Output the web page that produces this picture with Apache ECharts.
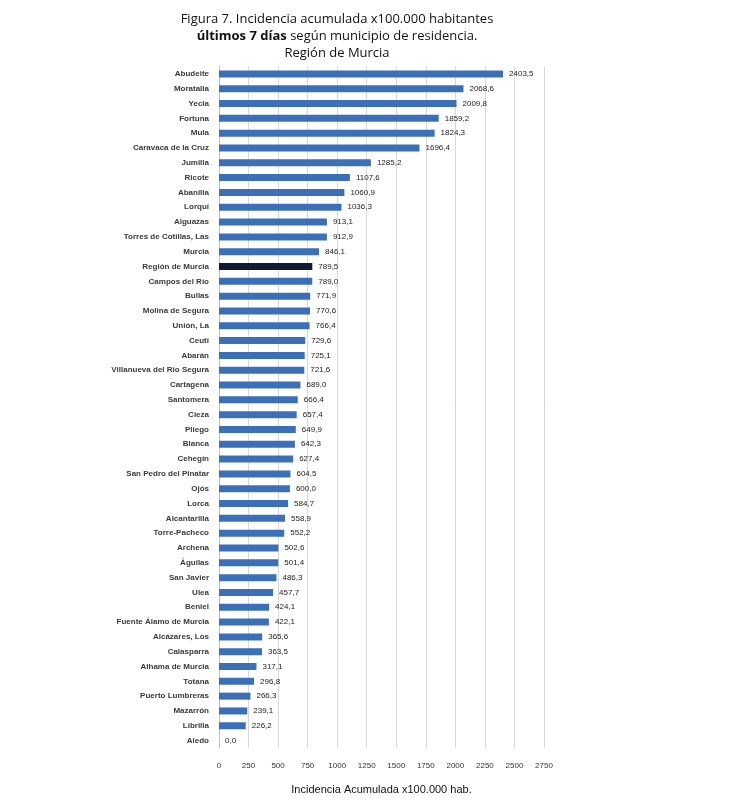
<!DOCTYPE html>
<html><head><meta charset="utf-8">
<script src="https://cdn.jsdelivr.net/npm/echarts@6/dist/echarts.min.js"></script>
<style>html,body{margin:0;padding:0;background:#fff}#c{width:740px;height:800px}</style>
</head><body><div id="c"></div>
<script>
const municipios = ["Abudeite","Moratalla","Yecla","Fortuna","Mula","Caravaca de la Cruz","Jumilla","Ricote","Abanilla","Lorquí","Alguazas","Torres de Cotillas, Las","Murcia","Región de Murcia","Campos del Río","Bullas","Molina de Segura","Unión, La","Ceutí","Abarán","Villanueva del Río Segura","Cartagena","Santomera","Cieza","Pliego","Blanca","Cehegín","San Pedro del Pinatar","Ojós","Lorca","Alcantarilla","Torre-Pacheco","Archena","Águilas","San Javier","Ulea","Beniel","Fuente Álamo de Murcia","Alcázares, Los","Calasparra","Alhama de Murcia","Totana","Puerto Lumbreras","Mazarrón","Librilla","Aledo"];
const incidencia = [2403.5,2068.6,2009.8,1859.2,1824.3,1696.4,1285.2,1107.6,1060.9,1036.3,913.1,912.9,846.1,789.5,789.0,771.9,770.6,766.4,729.6,725.1,721.6,689.0,666.4,657.4,649.9,642.3,627.4,604.5,600.0,584.7,558.9,552.2,502.6,501.4,486.3,457.7,424.1,422.1,365.6,363.5,317.1,296.8,266.3,239.1,226.2,0.0];
const highlight = "Región de Murcia";
const xTicks = [0,250,500,750,1000,1250,1500,1750,2000,2250,2500,2750];

const FONT = "'Liberation Sans Narrow','Liberation Sans',Arial,sans-serif";
const chart = echarts.init(document.getElementById('c'), null, {renderer:'canvas'});
chart.setOption({
  animation:false,
  title:{
    left:332, top:6, textAlign:'center',
    text:'{n|Figura 7. Incidencia acumulada x100.000 habitantes}\n{b|últimos 7 días}{n| según municipio de residencia.}\n{n|Región de Murcia}',
    textStyle:{
      fontWeight:'normal',
      rich:{
        n:{fontSize:13,fontFamily:'Open Sans, sans-serif',fontWeight:'normal',color:'#111',lineHeight:17},
        b:{fontSize:13,fontFamily:'Open Sans, sans-serif',fontWeight:'bold',color:'#111',lineHeight:17}
      }
    }
  },
  grid:{left:219,right:196,top:66.5,bottom:47.5,containLabel:false},
  xAxis:{
    type:'value',min:0,max:xTicks[xTicks.length-1],interval:250,
    name:'Incidencia Acumulada x100.000 hab.',nameLocation:'middle',nameGap:36,
    nameTextStyle:{fontSize:11,fontFamily:FONT,color:'#111'},
    axisLine:{show:false},axisTick:{show:false},
    axisLabel:{fontSize:8,fontFamily:FONT,color:'#333',margin:14,formatter:v=>String(v)},
    splitLine:{show:true,lineStyle:{color:'#d9d9d9',width:1}}
  },
  yAxis:{
    type:'category',data:municipios,inverse:true,
    axisLine:{show:true,lineStyle:{color:'#bfbfbf',width:1}},
    axisTick:{show:false},
    axisLabel:{fontSize:8,fontFamily:FONT,fontWeight:'bold',color:'#3a3a3a',margin:10}
  },
  series:[{
    type:'bar',barWidth:7,
    data:incidencia.map((v,i)=>({value:v,itemStyle:{color:municipios[i]===highlight?'#0e1b33':'#3b70b8'}})),
    label:{show:true,position:'right',distance:6,fontSize:8,fontFamily:FONT,color:'#222',
      formatter:p=>p.value.toFixed(1).replace('.',',')}
  }]
});
</script></body></html>
